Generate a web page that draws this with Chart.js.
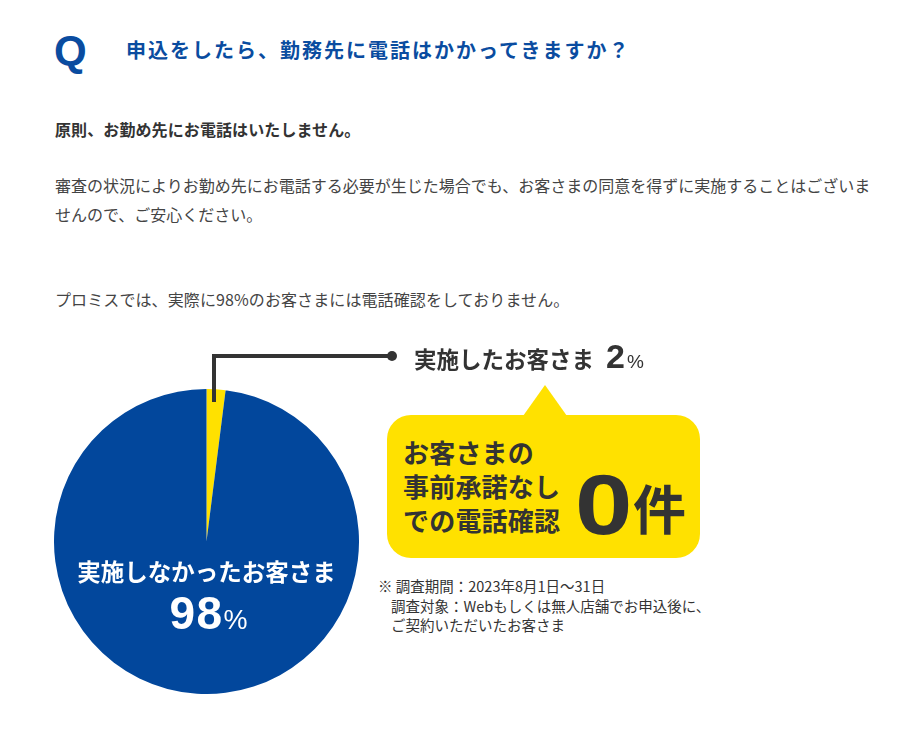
<!DOCTYPE html>
<html lang="ja">
<head>
<meta charset="utf-8">
<script src="https://cdn.jsdelivr.net/npm/chart.js@4/dist/chart.umd.min.js"></script>
<style>
  html, body { margin:0; padding:0; background:#fff; }
  body { width:921px; height:737px; position:relative; overflow:hidden;
         font-family:"Noto Sans CJK JP","Noto Sans",sans-serif; color:#333; }
  .t { position:absolute; white-space:nowrap; }
  #q { left:54px; top:26px; font-family:"Liberation Sans",Arial,sans-serif; font-weight:bold;
       font-size:42px; line-height:50px; color:#0A4CA0; }
  #title { left:126px; top:36px; font-size:20px; line-height:28px; font-weight:bold; color:#0A4CA0; letter-spacing:2px; }
  #lead { left:55px; top:117px; font-size:16px; line-height:24px; font-weight:bold; color:#333; letter-spacing:0.1px; }
  #para { left:55px; top:171px; font-size:16px; line-height:29px; color:#444; }
  #promise { left:55px; top:287px; font-size:16px; line-height:24px; color:#444; letter-spacing:0.1px; }
  #pieWrap { position:absolute; left:54px; top:389px; width:305px; height:305px; }
  #callTop { left:414px; top:335px; font-size:22.5px; line-height:42px; font-weight:bold; color:#333; }
  #callTop .n { font-family:"Liberation Sans",Arial,sans-serif; font-size:34px; margin-left:12px; }
  #callTop .p { font-family:"Liberation Sans",Arial,sans-serif; font-size:19px; font-weight:normal; margin-left:2px; }
  .hl { position:absolute; background:#333; }
  #dot { position:absolute; width:10px; height:10px; border-radius:50%; background:#333; left:387px; top:351px; }
  #bubble { position:absolute; left:387px; top:415px; width:313px; height:143px; background:#FFE100; border-radius:24px; }
  #tri { position:absolute; left:523px; top:385px; width:0; height:0;
         border-left:22px solid transparent; border-right:22px solid transparent; border-bottom:31px solid #FFE100; }
  #bText { left:403px; top:435px; font-size:26px; line-height:34px; font-weight:bold; color:#333; letter-spacing:0.2px; }
  #zero { left:575px; top:458px; font-family:"Liberation Sans",Arial,sans-serif; font-weight:bold; font-size:86px; line-height:92px; color:#333; transform:scaleX(1.2); transform-origin:left center; }
  #ken { left:633px; top:474px; font-size:53px; line-height:66px; font-weight:bold; color:#333; }
  #note { left:378px; top:576px; font-size:14.5px; line-height:19.5px; color:#333; }
  #pieLabel { left:54px; width:305px; top:552px; text-align:center; font-size:23.5px; line-height:38px; font-weight:bold; color:#fff; }
  #piePct { left:56px; width:305px; top:587px; text-align:center; color:#fff; line-height:52px; font-family:"Liberation Sans",Arial,sans-serif; font-weight:bold; }
  #piePct .n { font-size:46px; letter-spacing:1.5px; }
  #piePct .p { font-size:27px; font-weight:normal; }
</style>
</head>
<body>
<div class="t" id="q">Q</div>
<div class="t" id="title">申込をしたら、勤務先に電話はかかってきますか？</div>
<div class="t" id="lead">原則、お勤め先にお電話はいたしません。</div>
<div class="t" id="para">審査の状況によりお勤め先にお電話する必要が生じた場合でも、お客さまの同意を得ずに実施することはございま<br>せんので、ご安心ください。</div>
<div class="t" id="promise">プロミスでは、実際に98%のお客さまには電話確認をしておりません。</div>

<div id="pieWrap"><canvas id="pie" width="305" height="305"></canvas></div>

<div class="hl" style="left:212px; top:354px; width:4px; height:48px;"></div>
<div class="hl" style="left:212px; top:354px; width:180px; height:4px;"></div>
<div id="dot"></div>
<div class="t" id="callTop">実施したお客さま<span class="n">2</span><span class="p">%</span></div>

<div id="tri"></div>
<div id="bubble"></div>
<div class="t" id="bText">お客さまの<br>事前承諾なし<br>での電話確認</div>
<div class="t" id="zero">0</div>
<div class="t" id="ken">件</div>

<div class="t" id="note">※ 調査期間：2023年8月1日～31日<br>&nbsp;&nbsp;&nbsp;&nbsp;調査対象：Webもしくは無人店舗でお申込後に、<br>&nbsp;&nbsp;&nbsp;&nbsp;ご契約いただいたお客さま</div>

<div class="t" id="pieLabel">実施しなかったお客さま</div>
<div class="t" id="piePct"><span class="n">98</span><span class="p">%</span></div>

<script>
const categories = ['実施したお客さま', '実施しなかったお客さま'];
const values = [2, 98];
const sliceColors = ['#FFE100', '#02479C'];

new Chart(document.getElementById('pie'), {
  type: 'pie',
  data: {
    labels: categories,
    datasets: [{ data: values, backgroundColor: sliceColors, borderWidth: 0, hoverOffset: 0 }]
  },
  options: {
    responsive: false,
    animation: false,
    layout: { padding: 0 },
    plugins: { legend: { display: false }, tooltip: { enabled: false } },
    events: []
  }
});
</script>
</body>
</html>
